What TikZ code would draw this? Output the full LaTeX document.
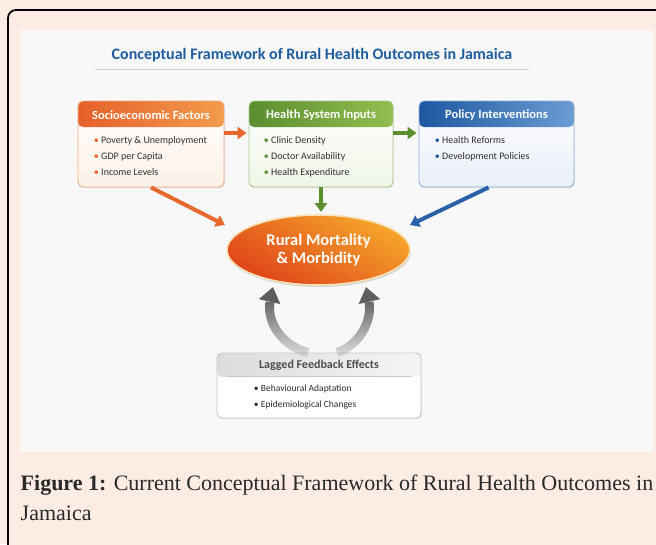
\documentclass[tikz,border=0pt]{standalone}
\usepackage{fontspec}
\setmainfont{Liberation Serif}
\newfontfamily\diafont{Carlito}
\usetikzlibrary{arrows.meta,shapes.geometric,shadows,fadings,calc}

\definecolor{pagebg}{HTML}{FDECE3}
\definecolor{panelbg}{HTML}{F8F8F8}
\definecolor{titleblue}{HTML}{1F5C9E}
\definecolor{rulegray}{HTML}{CFCFCF}
\definecolor{txtdark}{HTML}{2E2E2E}
\definecolor{orgA}{HTML}{E5602A}
\definecolor{orgB}{HTML}{F39C4C}
\definecolor{orgEdge}{HTML}{F2AE83}
\definecolor{orgBody}{HTML}{FDF1E8}
\definecolor{grnA}{HTML}{5A8E2F}
\definecolor{grnB}{HTML}{92BE50}
\definecolor{grnEdge}{HTML}{A8C98A}
\definecolor{grnBody}{HTML}{F0F6E8}
\definecolor{bluA}{HTML}{1D58A0}
\definecolor{bluB}{HTML}{6C9CD2}
\definecolor{bluEdge}{HTML}{8DB0DA}
\definecolor{bluBody}{HTML}{E9EFF8}
\definecolor{gryA}{HTML}{DCDCDC}
\definecolor{gryB}{HTML}{F5F5F5}
\definecolor{gryEdge}{HTML}{C9C9C9}
\definecolor{ellTop}{HTML}{F6A62A}
\definecolor{ellBot}{HTML}{DF4419}
\definecolor{ellEdge}{HTML}{FBE2B6}
\definecolor{fbArrow}{HTML}{5E5E5E}

\tikzset{
  % framed box with a shaded header band drawn by the path picture
  factorbox/.style n args={5}{
    draw=#3, line width=0.9pt, rounded corners=5pt,
    minimum width=#1, minimum height=#2, inner sep=0pt,
    top color=white, bottom color=#4,
    drop shadow={opacity=0.18, shadow xshift=0.8pt, shadow yshift=-1.2pt},
    path picture={#5}
  },
  hdrtext/.style={font=\diafont\bfseries\fontsize{12.5}{14}\selectfont, text=white},
  itemtext/.style={font=\diafont\fontsize{10}{16}\selectfont, text=txtdark,
    align=left, anchor=north west, inner sep=0pt},
  flowarrow/.style={line width=4pt, -{Triangle[width=12pt,length=9pt]}},
  fbshaft/.style={line width=9pt, draw=fbArrow, path fading=fbfade},
  fbhead/.style={line width=9pt, draw=fbArrow, -{Triangle[width=21pt,length=15pt]}},
}
\tikzfading[name=fbfade, top color=transparent!0, bottom color=transparent!85]

\newcommand{\hdrband}[3]{%
  \shade[left color=#1, right color=#2]
    (path picture bounding box.north west) rectangle
    ([yshift=-#3]path picture bounding box.north east);}

\begin{document}
\begin{tikzpicture}[x=1pt,y=-1pt]
\useasboundingbox (0,0) rectangle (656,544);

% page background, frame and grey panel
\fill[pagebg] (0,0) rectangle (656,544);
\draw[line width=1.8pt, rounded corners=8pt, fill=pagebg] (8,10) rectangle (680,570);
\fill[panelbg] (20,30) rectangle (653,452);

% title
\node[font=\diafont\bfseries\fontsize{16}{18}\selectfont, text=titleblue] (title) at (312,55) {Conceptual Framework of Rural Health Outcomes in Jamaica};
\draw[rulegray, line width=1pt] (95,69) -- (529,69);

% factor boxes
\node[factorbox={146pt}{86pt}{orgEdge}{orgBody}{\hdrband{orgA}{orgB}{26pt}}] (soc) at (151,144) {};
\node[factorbox={144pt}{86pt}{grnEdge}{grnBody}{\hdrband{grnA}{grnB}{26pt}}] (hsi) at (321,144) {};
\node[factorbox={155pt}{86pt}{bluEdge}{bluBody}{\hdrband{bluA}{bluB}{26pt}}] (pol) at (496.5,144) {};

\node[hdrtext] (socH) at ([yshift=-15pt]soc.north) {Socioeconomic Factors};
\node[hdrtext] (hsiH) at ([yshift=-15pt]hsi.north) {Health System Inputs};
\node[hdrtext] (polH) at ([yshift=-15pt]pol.north) {Policy Interventions};

\node[itemtext] (socL) at ([xshift=16pt,yshift=-36pt]soc.north west)
  {{\color{orgA}•}\hspace{2.5pt}Poverty \& Unemployment\\
   {\color{orgA}•}\hspace{2.5pt}GDP per Capita\\
   {\color{orgA}•}\hspace{2.5pt}Income Levels};
\node[itemtext] (hsiL) at ([xshift=15pt,yshift=-36pt]hsi.north west)
  {{\color{grnA}•}\hspace{2.5pt}Clinic Density\\
   {\color{grnA}•}\hspace{2.5pt}Doctor Availability\\
   {\color{grnA}•}\hspace{2.5pt}Health Expenditure};
\node[itemtext] (polL) at ([xshift=16pt,yshift=-36pt]pol.north west)
  {{\color{bluA}•}\hspace{2.5pt}Health Reforms\\
   {\color{bluA}•}\hspace{2.5pt}Development Policies};

% central outcome
\node[ellipse, minimum width=183pt, minimum height=70pt, inner sep=0pt,
  draw=ellEdge, line width=1.6pt,
  top color=ellTop, bottom color=ellBot, shading angle=-30,
  drop shadow={opacity=0.3, shadow xshift=1pt, shadow yshift=-2pt},
  font=\diafont\bfseries\fontsize{16.5}{18}\selectfont, text=white, align=center]
  (rmm) at (318.5,250) {Rural Mortality\\\& Morbidity};

% feedback box
\node[factorbox={204pt}{65pt}{gryEdge}{white}{\hdrband{gryA}{gryB}{24pt}}] (fb) at (319,385.5) {};
\node[font=\diafont\bfseries\fontsize{12}{14}\selectfont, text=txtdark!85] (fbH) at ([yshift=-12.5pt]fb.north) {Lagged Feedback Effects};
\draw[gryEdge, line width=0.6pt] ([xshift=10pt,yshift=-24pt]fb.north west) -- ([xshift=-10pt,yshift=-24pt]fb.north east);
\node[itemtext, font=\diafont\fontsize{9.5}{16.5}\selectfont] (fbL) at ([xshift=37pt,yshift=-32pt]fb.north west)
  {{\color{txtdark}•}\hspace{2.5pt}Behavioural Adaptation\\
   {\color{txtdark}•}\hspace{2.5pt}Epidemiological Changes};

% connectors between factors
\draw[flowarrow, draw=orgA!90!orgB] ([yshift=11pt]soc.east) -- ([xshift=-2pt,yshift=11pt]hsi.west);
\draw[flowarrow, draw=grnA] ([yshift=11pt]hsi.east) -- ([xshift=-2pt,yshift=11pt]pol.west);

% connectors into the outcome
\coordinate (inL) at (225,225);
\coordinate (inR) at (410,225);
\coordinate (inT) at (321,212);
\draw[flowarrow, draw=orgA!85!orgB] (soc.south) -- (inL);
\draw[flowarrow, draw=grnA] (hsi.south) -- (inT);
\draw[flowarrow, draw=bluA!85!bluB] ([xshift=-8pt]pol.south) -- (inR);

% lagged feedback loops: faded curved shaft plus a solid head
\coordinate (fbTipL) at (273,287);
\coordinate (fbBaseL) at (270,302);
\coordinate (fbTipR) at (366,287);
\coordinate (fbBaseR) at (369,302);
\draw[fbshaft] ([xshift=-11pt]fb.north) .. controls (282,346) and (266.5,322) .. (fbBaseL);
\draw[fbshaft] ([xshift=18pt]fb.north) .. controls (358,346) and (372.5,322) .. (fbBaseR);
\draw[fbhead] ([yshift=2pt]fbBaseL) -- (fbTipL);
\draw[fbhead] ([yshift=2pt]fbBaseR) -- (fbTipR);

% caption
\node[anchor=base west, inner sep=0pt, font=\fontsize{22}{28}\selectfont, text=txtdark!90!black] (cap1) at (20.5,490) {\textbf{Figure 1:} Current Conceptual Framework of Rural Health Outcomes in};
\node[anchor=base west, inner sep=0pt, font=\fontsize{22}{28}\selectfont, text=txtdark!90!black] (cap2) at (20.5,520) {Jamaica};
\end{tikzpicture}
\end{document}
